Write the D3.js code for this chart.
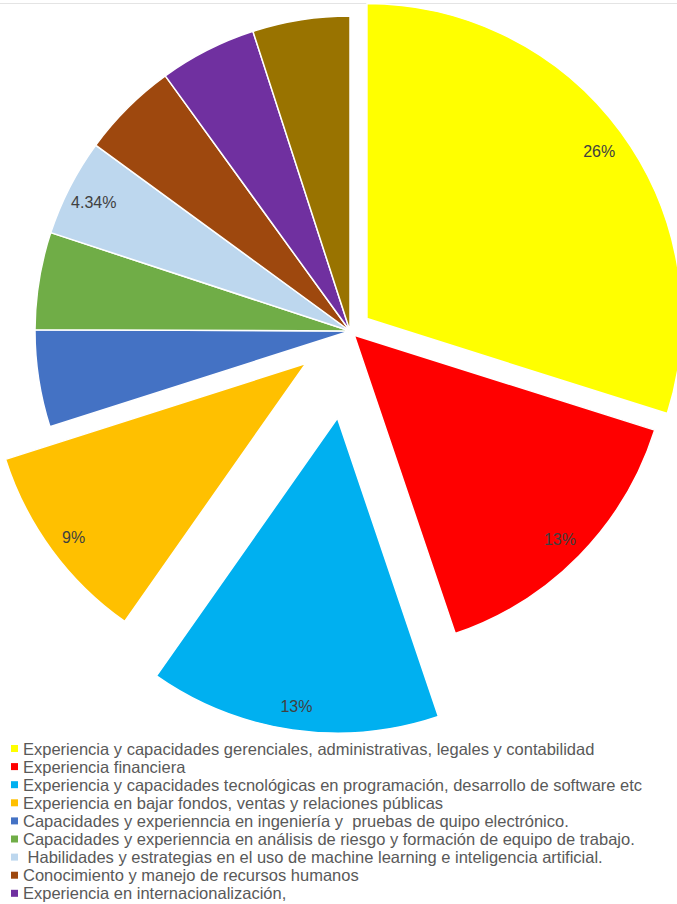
<!DOCTYPE html>
<html>
<head>
<meta charset="utf-8">
<script src="https://cdn.jsdelivr.net/npm/d3@7"></script>
<style>
  html, body { margin: 0; padding: 0; background: #ffffff; overflow: hidden; }
  svg { display: block; font-family: "Liberation Sans", Arial, sans-serif; }
</style>
</head>
<body>
<svg id="chart" width="677" height="904"></svg>
<script>
// Share of each skill area (slice values, in percent points)
const values = [26, 13, 13, 9, 4.34, 4.34, 4.34, 4.34, 4.34, 4.34];

// Legend entries, in slice order
const categories = [
  "Experiencia y capacidades gerenciales, administrativas, legales y contabilidad",
  "Experiencia financiera",
  "Experiencia y capacidades tecnológicas en programación, desarrollo de software etc",
  "Experiencia en bajar fondos, ventas y relaciones públicas",
  "Capacidades y experienncia en ingeniería y  pruebas de quipo electrónico.",
  "Capacidades y experienncia en análisis de riesgo y formación de equipo de trabajo.",
  " Habilidades y estrategias en el uso de machine learning e inteligencia artificial.",
  "Conocimiento y manejo de recursos humanos",
  "Experiencia en internacionalización,"
];

const colors = ["#FFFF00", "#FF0000", "#00B0F0", "#FFC000", "#4472C4",
                "#70AD47", "#BDD7EE", "#9E480E", "#7030A0", "#997300"];

// How far each slice is pulled out from the centre (px)
const explode = [21, 6, 88, 55, 0, 0, 0, 0, 0, 0];

// Which slices carry a data label
const showLabel = [true, true, true, true, false, false, true, false, false, false];

const svg = d3.select("#chart");
const cx = 350, cy = 331, radius = 315;

// thin frame line at the top of the chart area
svg.append("line")
  .attr("x1", 0).attr("x2", 677).attr("y1", 3.5).attr("y2", 3.5)
  .attr("stroke", "#e4e4e4").attr("stroke-width", 1);

const pie = d3.pie().sort(null).value(d => d).startAngle(0).endAngle(2 * Math.PI);
const arcs = pie(values);
const arc = d3.arc().innerRadius(0).outerRadius(radius);

const g = svg.append("g").attr("transform", `translate(${cx},${cy})`);

const offset = (d, i) => {
  const mid = (d.startAngle + d.endAngle) / 2;
  return [Math.sin(mid) * explode[i], -Math.cos(mid) * explode[i]];
};

g.selectAll("path.slice")
  .data(arcs)
  .join("path")
  .attr("class", "slice")
  .attr("d", arc)
  .attr("transform", (d, i) => { const o = offset(d, i); return `translate(${o[0]},${o[1]})`; })
  .attr("fill", (d, i) => colors[i])
  .attr("stroke", "#ffffff")
  .attr("stroke-width", 1.5)
  .attr("stroke-linejoin", "round");

// Data labels placed just inside the outer edge of the slice
const labelR = 288;
g.selectAll("text.lbl")
  .data(arcs.filter((d, i) => showLabel[i]))
  .join("text")
  .attr("class", "lbl")
  .attr("x", d => { const mid = (d.startAngle + d.endAngle) / 2; return offset(d, d.index)[0] + Math.sin(mid) * labelR; })
  .attr("y", d => { const mid = (d.startAngle + d.endAngle) / 2; return offset(d, d.index)[1] - Math.cos(mid) * labelR + 3; })
  .attr("text-anchor", "middle")
  .attr("dominant-baseline", "central")
  .attr("font-size", 16)
  .attr("fill", "#404040")
  .text(d => d.data + "%");

// Legend
const legendY = d3.scaleLinear().domain([0, 1]).range([748.5, 766.6]);
const legend = svg.append("g");
const item = legend.selectAll("g.item")
  .data(categories)
  .join("g")
  .attr("class", "item")
  .attr("transform", (d, i) => `translate(0,${legendY(i)})`);

item.append("rect")
  .attr("x", 11).attr("y", -3.5).attr("width", 7).attr("height", 7)
  .attr("fill", (d, i) => colors[i]);

item.append("text")
  .attr("x", 23)
  .attr("y", 0)
  .attr("dominant-baseline", "central")
  .attr("font-size", 16.5)
  .attr("fill", "#595959")
  .attr("xml:space", "preserve")
  .style("white-space", "pre")
  .text(d => d);
</script>
</body>
</html>
